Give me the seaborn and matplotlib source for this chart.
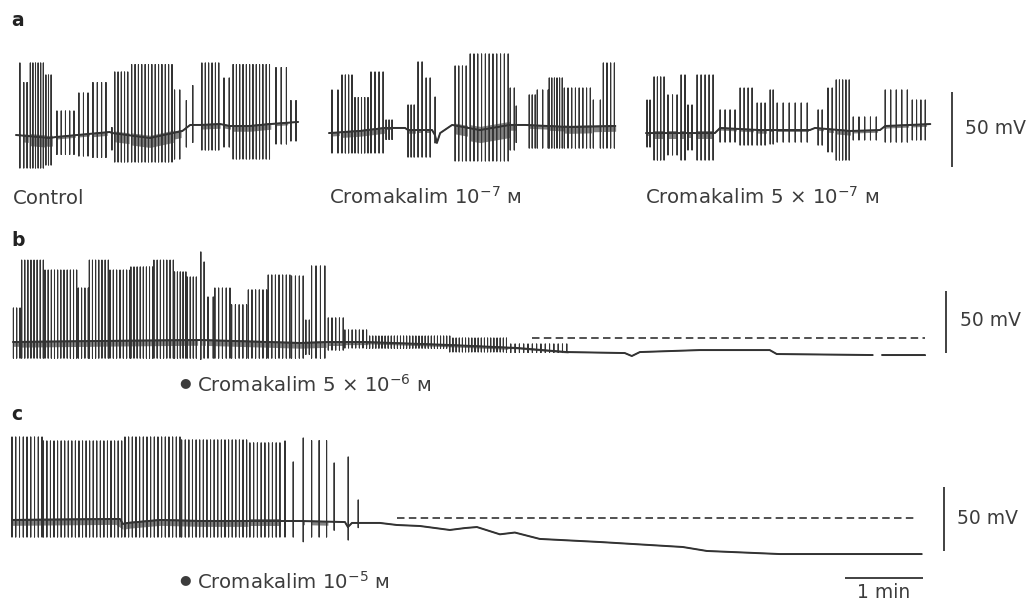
import numpy as np
import pandas as pd
import matplotlib
matplotlib.use("Agg")
import matplotlib.pyplot as plt
import seaborn as sns

# ---------------- data (time in s from trace start, potential in mV) ----------------
# burst tuples: (first spike s, last spike s, number of spikes, peak mV, trough mV, dark band depth mV)
A1_BASE_T = [0, 26, 31, 72, 74, 103, 128, 131, 134, 141.5, 157, 164.6, 180, 195.3, 217]
A1_BASE_MV = [-50, -52, -51.3, -48, -48.7, -52, -47.3, -45.3, -43.3, -43.3, -42.7, -44, -44, -42.7, -41.3]
A1_BURSTS = [
    (3, 3, 1, -2, -72, 0), (6, 8.5, 2, -15, -72, 6), (11, 21, 6, -2, -72, 9),
    (23, 27, 3, -10, -70, 8), (31.5, 44.6, 5, -34, -63, 2), (48.4, 55.4, 3, -22, -64, 2),
    (59.2, 69.2, 4, -15, -65, 3), (73.8, 73.8, 1, -45, -60, 0), (76, 86, 5, -8, -68, 8),
    (89, 120, 13, -3, -68, 9), (122, 126, 2, -20, -66, 6), (131, 131, 1, -27, -58, 0),
    (136, 136, 1, -17, -55, 0), (143, 156, 6, -2, -60, 4), (160, 164, 2, -12, -58, 3),
    (167, 195, 12, -3, -66, 5), (200, 208, 3, -5, -56, 2), (211.5, 215.4, 2, -27, -54, 0),
]

A2_BASE_T = [0, 24, 43, 58.5, 60.8, 79.3, 81.5, 83, 85.5, 94.7, 116, 139, 151, 185.6, 220.2]
A2_BASE_MV = [-48.7, -47.3, -45.3, -45.3, -46.7, -46.7, -50, -55.3, -48.7, -43.3, -46.7, -43.3, -43.3, -44.7, -44]
A2_BURSTS = [
    (2.3, 6.9, 2, -20, -62, 3), (10, 17.7, 4, -10, -62, 5), (20, 30, 5, -25, -62, 5),
    (32.3, 41.6, 4, -8, -62, 5), (43.9, 48.5, 3, -40, -53, 2), (60.8, 65.5, 3, -30, -64.7, 3),
    (68.5, 71.6, 2, -1.3, -64.7, 3), (74.7, 77.8, 2, -12, -64.7, 3), (81.6, 81.6, 1, -24.7, -55.3, 0),
    (97, 105.5, 4, -4, -67.3, 8), (108.6, 137.8, 11, 4, -67.3, 12), (139.4, 142.5, 2, -18.7, -60, 5),
    (144, 144, 1, -30.7, -55, 0), (154, 158.6, 3, -23.3, -58.7, 3), (160.2, 168.6, 3, -20, -58.7, 3),
    (169.4, 179.4, 6, -12, -58.7, 4), (181, 201, 8, -18.7, -58.7, 6), (203.3, 208.7, 2, -26.7, -58.7, 5),
    (211, 219.5, 4, -2, -58.7, 5),
]

A3_BASE_T = [0, 53, 57, 87.5, 126, 130, 157, 180, 184, 218.7]
A3_BASE_MV = [-48.7, -48.7, -45.3, -46.7, -46.7, -45.3, -47.3, -46.7, -44, -42.7]
A3_BURSTS = [
    (0.8, 3.1, 2, -26.7, -58, 3), (6.2, 13.9, 4, -11.3, -66.7, 6), (16.9, 23.9, 3, -23.3, -63.3, 6),
    (27, 30, 2, -10, -66.7, 6), (32.3, 35.4, 2, -30, -60, 5), (39.3, 51.6, 5, -10, -66.7, 6),
    (57, 68.5, 4, -33.3, -54.7, 2), (72.4, 81.6, 4, -18.7, -56.7, 2), (85.5, 91.6, 3, -28.7, -56.7, 3),
    (95.5, 97.8, 2, -20, -56, 2), (100.9, 124, 6, -28.7, -54.7, 2), (132.4, 135.5, 2, -33.3, -56.7, 2),
    (140, 143.2, 2, -18.7, -61.3, 3), (146.3, 156.3, 5, -13.3, -66.7, 4), (159.4, 177.1, 5, -38, -53.3, 2),
    (184, 201, 5, -20, -54.7, 2), (204.8, 214.8, 4, -26.7, -53.3, 2),
]

B_BASE_T = [0, 66.9, 143.8, 220.7, 243.8, 271.5, 336, 387.6, 426, 470.6, 476, 482.2, 528.3, 582.1, 587.5, 661.3, 668.3, 701.3]
B_BASE_MV = [-50, -49.2, -48.4, -50.8, -50, -50, -52.4, -54.8, -58.1, -58.9, -61.3, -58.1, -56.5, -56.5, -59.7, -60.5, -60.5, -60.5]
B_GAPS = [(662, 668)]
B_BURSTS = [
    (0.3, 5.4, 3, -22.6, -63, 5), (6.7, 23.3, 8, 16, -63, 6), (24.6, 49, 11, 8, -63, 6),
    (50.2, 57.9, 4, -6.5, -63, 6), (58.7, 73.3, 7, 16, -63, 6), (74.6, 90, 7, 8, -63, 6),
    (90.7, 107.4, 8, 10.5, -63, 6), (108.4, 123.3, 7, 16, -63, 6), (124.3, 133, 5, 6.5, -63, 6),
    (134, 141, 4, 2.4, -63, 6), (144.5, 144.5, 1, 22.6, -64, 6), (147, 147, 1, 14.5, -63, 6),
    (150, 154, 2, -13.7, -63, 6), (155.3, 166.9, 5, -6.5, -63, 6), (168.2, 179.7, 5, -20, -63, 6),
    (181, 195.1, 6, -8, -63, 6), (196.3, 213, 7, 4, -63, 6), (214.3, 223.2, 4, 3.2, -63, 6),
    (225.3, 227.9, 2, -32.3, -60, 6), (229.7, 239.9, 4, 11.3, -63, 6), (242.5, 254, 5, -30.6, -56.5, 4),
    (255.3, 272, 7, -40.3, -54.8, 3), (272, 336, 28, -45.2, -55, 2), (336, 379.6, 19, -46.8, -58, 2),
    (379.6, 426, 15, -51.6, -58.5, 1),
]
B_CONTROL_MV = -46.8
B_CONTROL_T = [399, 701.3]

C_BASE_T = [0, 83, 85.4, 89.2, 113.8, 144.6, 221.5, 256.1, 258.4, 261.5, 283, 296, 313.8, 336.8, 348.4,
            357.6, 375.3, 386.8, 406, 452.2, 516, 534.5, 590.6, 699.8]
C_BASE_MV = [-50, -49.2, -53.1, -52.3, -50, -50.8, -50.8, -51.6, -55.5, -52.3, -52.3, -53.9, -54.7, -57.8,
             -56.3, -55.5, -61.2, -59.8, -64.8, -67.2, -71.1, -74.2, -76.6, -76.6]
C_BURSTS = [
    (0, 23.1, 9, 14.8, -63.3, 6), (24.1, 84.4, 23, 11.7, -63.3, 6), (86.9, 129.2, 16, 14.8, -63.3, 6),
    (130.5, 180.5, 19, 12.5, -63.3, 6), (183, 206.1, 9, 10.2, -63.3, 6), (210, 210, 1, 11.7, -63.3, 4),
    (216.3, 216.3, 1, -4.7, -63.3, 4), (224, 224, 1, 14, -67, 4), (230.5, 242, 3, 12, -63.3, 4),
    (247.8, 247.8, 1, -5.5, -58, 0), (258.6, 258.6, 1, -0.8, -65.6, 0), (266.3, 266.3, 1, -34.4, -56, 0),
]
C_CONTROL_MV = -48.4
C_CONTROL_T = [296, 694.4]

SCALE_MV = 50      # vertical calibration bars
SCALE_S = 60       # 1 min horizontal bar

LABELS_A = ["Control", "Cromakalim $10^{-7}$ ᴍ", "Cromakalim 5 × $10^{-7}$ ᴍ"]
LABEL_B = "Cromakalim 5 × $10^{-6}$ ᴍ"
LABEL_C = "Cromakalim $10^{-5}$ ᴍ"

# ---------------- layout ----------------
W, H = 1031, 604
S_PER_PX = 60 / 78.0
INK = "#333333"
TXT = "#3c3c3c"
FS = 14.2

sns.set_theme(style="white")
plt.rcParams["font.family"] = ["DejaVu Sans"]
plt.rcParams["mathtext.fontset"] = "dejavusans"

fig = plt.figure(figsize=(W / 100, H / 100), dpi=100)


def row_axes(top_px, bot_px, ymin, ymax):
    ax = fig.add_axes([0, 1 - bot_px / H, 1, (bot_px - top_px) / H])
    ax.set_xlim(0, W * S_PER_PX)
    ax.set_ylim(ymin, ymax)
    ax.axis("off")
    return ax


def trace_frame(base_t, base_mv, bursts, gaps=()):
    rows = [(t, 0, v) for t, v in zip(base_t, base_mv)]
    for t0, t1, n, top, bot, band in bursts:
        for t in np.linspace(t0, t1, n):
            b = float(np.interp(t, base_t, base_mv))
            rows += [(t, 1, b), (t, 2, top), (t, 3, bot), (t, 4, b)]
    rows.sort(key=lambda r: (r[0], r[1]))
    df = pd.DataFrame(rows, columns=["t", "k", "mV"])
    keep = np.ones(len(df), bool)
    seg = np.zeros(len(df), int)
    for g0, g1 in gaps:
        keep &= ~((df.t > g0) & (df.t < g1)).to_numpy()
        seg += (df.t >= g1).to_numpy().astype(int)
    df["seg"] = seg
    return df[keep]


def draw_trace(ax, x0_px, base_t, base_mv, bursts, gaps=()):
    off = x0_px * S_PER_PX
    df = trace_frame(base_t, base_mv, bursts, gaps)
    df = df.assign(t=df.t + off)
    sns.lineplot(data=df, x="t", y="mV", units="seg", estimator=None, sort=False,
                 color=INK, lw=0.75, ax=ax, legend=False)
    base = df[df.k == 0]
    sns.lineplot(data=base, x="t", y="mV", units="seg", estimator=None, sort=False,
                 color=INK, lw=1.4, ax=ax, legend=False)
    for t0, t1, n, top, bot, band in bursts:
        if band <= 0:
            continue
        tt = np.linspace(t0 - 0.5, t1 + 1.0, 12)
        bb = np.interp(tt, base_t, base_mv)
        ax.fill_between(tt + off, bb - 0.7 * band, bb + 0.2 * band, color=INK, lw=0, alpha=0.6)
    ax.set_xlabel("")
    ax.set_ylabel("")


def vbar(ax, x_px, lo_mv):
    t = x_px * S_PER_PX
    ax.plot([t, t], [lo_mv, lo_mv + SCALE_MV], color=INK, lw=1.3, solid_capstyle="butt")


def dashed(ax, x0_px, ts, level):
    off = x0_px * S_PER_PX
    ax.plot([ts[0] + off, ts[1] + off], [level, level], color=INK, lw=1.2, dashes=(4.5, 2.6))


# row a
ax_a = row_axes(30, 185, -83.33, 20)
draw_trace(ax_a, 16, A1_BASE_T, A1_BASE_MV, A1_BURSTS)
draw_trace(ax_a, 329, A2_BASE_T, A2_BASE_MV, A2_BURSTS)
draw_trace(ax_a, 646, A3_BASE_T, A3_BASE_MV, A3_BURSTS)
vbar(ax_a, 952, -71.3)

# row b
ax_b = row_axes(235, 375, -76.6, 36.3)
draw_trace(ax_b, 13, B_BASE_T, B_BASE_MV, B_BURSTS, B_GAPS)
dashed(ax_b, 13, B_CONTROL_T, B_CONTROL_MV)
vbar(ax_b, 946, -58.9)

# row c
ax_c = row_axes(425, 600, -112.5, 24.2)
draw_trace(ax_c, 12, C_BASE_T, C_BASE_MV, C_BURSTS)
dashed(ax_c, 12, C_CONTROL_T, C_CONTROL_MV)
vbar(ax_c, 944, -74.2)
t0 = 845 * S_PER_PX
ax_c.plot([t0, t0 + SCALE_S], [-95.3, -95.3], color=INK, lw=1.3, solid_capstyle="butt")


def ftext(x, y, s, **kw):
    kw.setdefault("fontsize", FS)
    kw.setdefault("color", TXT)
    kw.setdefault("ha", "left")
    kw.setdefault("va", "center")
    fig.text(x / W, 1 - y / H, s, **kw)


ftext(11, 20, "a", fontweight="bold", fontsize=13.5, color="#222222")
ftext(11, 240, "b", fontweight="bold", fontsize=13.5, color="#222222")
ftext(11, 415, "c", fontweight="bold", fontsize=13.5, color="#222222")
ftext(13, 198, LABELS_A[0])
ftext(329, 197, LABELS_A[1])
ftext(645, 197, LABELS_A[2])
ftext(965, 129, "50 mV", fontsize=13.5)
ftext(960, 321, "50 mV", fontsize=13.5)
ftext(957, 518, "50 mV", fontsize=13.5)
ftext(185, 386, "●", fontsize=9.5, ha="center", va="baseline")
ftext(197, 385, LABEL_B)
ftext(185, 583, "●", fontsize=9.5, ha="center", va="baseline")
ftext(197, 582, LABEL_C)
ftext(884, 593, "1 min", ha="center", fontsize=13.5)

fig.savefig("out.png", dpi=100)
